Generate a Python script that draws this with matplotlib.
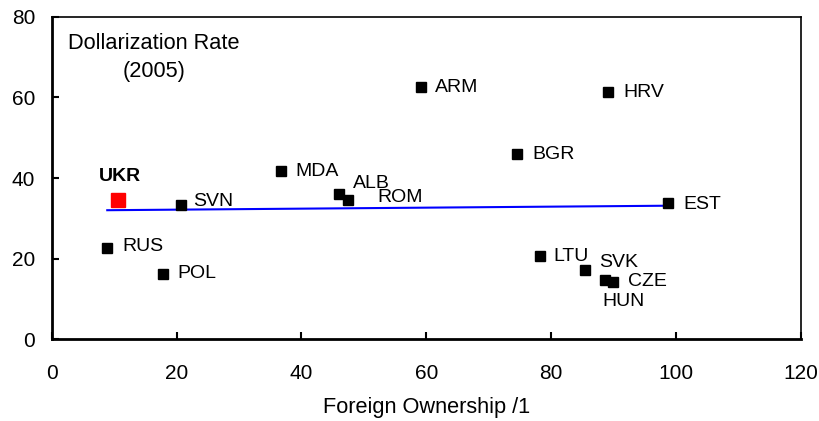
import numpy as np
import matplotlib
matplotlib.use("Agg")
import matplotlib.pyplot as plt

plt.rcParams['font.family'] = ['Liberation Sans', 'DejaVu Sans']

# Data
countries = ["SVN", "MDA", "ALB", "ROM", "ARM", "HRV", "BGR", "EST",
             "RUS", "POL", "LTU", "SVK", "HUN", "CZE"]
foreign_own = [20.65, 36.8, 46.0, 47.4, 59.1, 89.2, 74.5, 98.8,
               8.9, 17.8, 78.2, 85.5, 88.6, 89.9]
dollarization = [33.2, 41.7, 35.95, 34.5, 62.5, 61.3, 45.9, 33.7,
                 22.7, 16.2, 20.65, 17.3, 14.7, 14.3]
ukr_x = [10.56]
ukr_y = [34.5]

# label offsets (pixels: dx right, dy up)
label_dx = [13, 14, 14, 30, 14, 15, 15.6, 15, 15, 15, 14, 14, -2, 15]
label_dy = [4, 0, 11, 3, 0, 0, 0, -1, 1, 0, 0, 7, -21, 0]

xticks = [0, 20, 40, 60, 80, 100, 120]
yticks = [0, 20, 40, 60, 80]

W, H = 820, 421
fig = plt.figure(figsize=(W / 100, H / 100), dpi=100)
ax = fig.add_axes([51.7 / W, (H - 339.3) / H, (800.7 - 51.7) / W, (339.3 - 16.7) / H])

# trend line (OLS over all countries incl. UKR)
all_x = np.array(foreign_own + ukr_x)
all_y = np.array(dollarization + ukr_y)
slope, intercept = np.polyfit(all_x, all_y, 1)
tx = np.array([all_x.min(), all_x.max()])
ax.plot(tx, slope * tx + intercept, color="#0000ff", lw=1.5, zorder=2)

ax.plot(foreign_own, dollarization, linestyle="none", marker="s",
        markersize=6.5, color="black", zorder=3)
ax.plot(ukr_x, ukr_y, linestyle="none", marker="s",
        markersize=10.5, color="#ff0000", zorder=3)

px2pt = 0.72
for c, x, y, dx, dy in zip(countries, foreign_own, dollarization,
                           label_dx, label_dy):
    ax.annotate(c, (x, y), xytext=(dx * px2pt, dy * px2pt),
                textcoords="offset points", ha="left", va="center",
                fontsize=14, color="black")
ax.annotate("UKR", (ukr_x[0], ukr_y[0]), xytext=(2 * px2pt, 24 * px2pt),
            textcoords="offset points", ha="center", va="center",
            fontsize=14, fontweight="bold", color="black")

ax.text(0.136, 0.9175, "Dollarization Rate", transform=ax.transAxes,
        ha="center", va="center", fontsize=15.7)
ax.text(0.136, 0.8295, "(2005)", transform=ax.transAxes,
        ha="center", va="center", fontsize=15.7)

ax.set_xlim(0, 120)
ax.set_ylim(0, 80)
ax.set_xticks(xticks)
ax.set_yticks(yticks)
ax.tick_params(axis="x", direction="in", length=5, width=1.5, pad=18, labelsize=15)
ax.tick_params(axis="y", direction="in", length=5, width=1.5, pad=12, labelsize=15)
for side in ["left", "bottom"]:
    ax.spines[side].set_linewidth(2.0)
for side in ["top", "right"]:
    ax.spines[side].set_linewidth(1.2)

ax.set_xlabel("Foreign Ownership /1", fontsize=15.7)
ax.xaxis.set_label_coords(0.5, (339.3 - 408) / 322.6)
ax.xaxis.label.set_va("center")

fig.savefig("out.png", dpi=100)
